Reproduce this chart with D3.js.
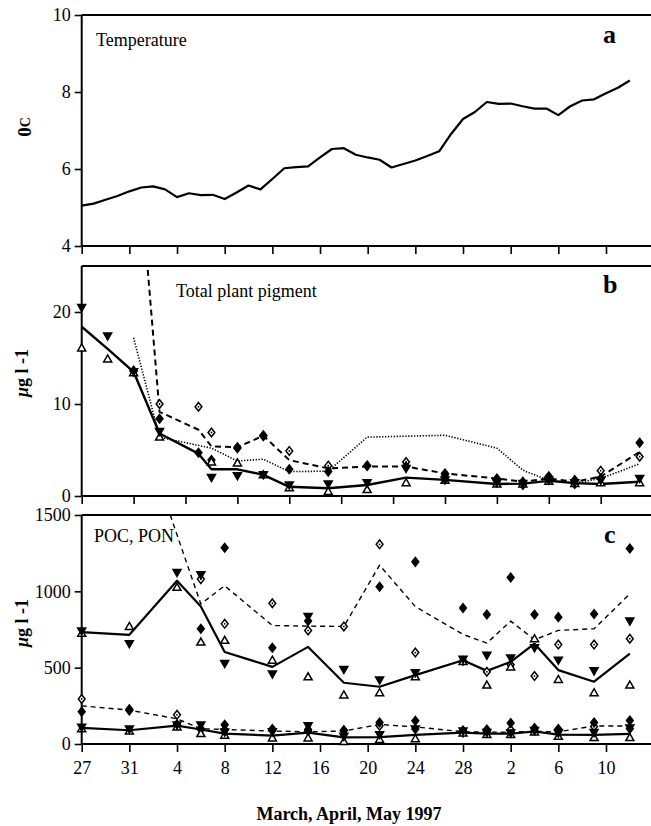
<!DOCTYPE html>
<html>
<head>
<meta charset="utf-8">
<script src="https://cdn.jsdelivr.net/npm/d3@7"></script>
<style>
  body { margin: 0; background: #fff; }
  text { font-family: "Liberation Serif", "Times New Roman", serif; fill: #000; }
</style>
</head>
<body>
<script>
// ---------- data ----------
// day 0 = 27 March
var tempDays = [0,1,2,3,4,5,6,7,8,9,10,11,12,13,14,15,16,17,18,19,20,21,22,23,
                24,25,26,27,28,29,30,31,32,33,34,35,36,37,38,39,40,41,42,43,44,45,46];
var tempVals = [5.05,5.10,5.20,5.30,5.42,5.52,5.55,5.47,5.27,5.37,5.32,5.33,5.22,5.39,5.57,5.47,
                5.74,6.02,6.05,6.07,6.30,6.52,6.54,6.37,6.30,6.24,6.04,6.13,6.22,6.34,6.46,6.91,
                7.30,7.48,7.74,7.69,7.70,7.63,7.57,7.57,7.40,7.63,7.78,7.81,7.97,8.11,8.30];

// panel b (its own x spacing)
var bDays    = [0, 2, 4, 6, 9, 10, 12, 14, 16, 19, 22, 25, 28, 32, 34, 36, 38, 40, 43];
var bDownTri = [20.5, 17.4, 13.5, 7.0, null, 2.0, 2.2, 2.3, 1.2, 1.3, 1.45, 3.0, 1.75, 1.45, 1.35, 1.7, 1.45, 1.7, 1.9];
var bUpTri   = [16.1, 14.9, 13.4, 6.4, null, 3.7, 3.6, 2.3, 0.9, 0.5, 0.7, 1.45, 1.7, 1.3, 1.3, 1.6, 1.35, 1.45, 1.45];
var bFillDia = [null, null, 13.6, 8.4, 4.7, 3.9, 5.2, 6.5, 2.9, 2.65, 3.3, 3.2, 2.45, 1.9, 1.55, 2.15, 1.75, 1.9, 5.8];
var bOpenDia = [null, null, 13.6, 10.0, 9.7, 6.9, 5.3, 6.6, 4.9, 3.3, 3.3, 3.7, 2.3, 1.7, 1.2, 1.9, 1.3, 2.75, 4.27];
var bSolid   = [18.4, 16.0, 13.5, 6.8, 4.6, 2.9, 2.9, 2.3, 1.0, 0.85, 1.2, 2.0, 1.75, 1.3, 1.35, 1.65, 1.4, 1.3, 1.55];
var bDashed  = [null, null, 43, 9.15, 7.2, 5.4, 5.3, 6.55, 3.9, 3.0, 3.2, 3.2, 2.45, 1.9, 1.55, 1.9, 1.55, 2.1, 4.8];
var bDotted  = [null, null, 17.2, 6.4, null, 5.2, 3.8, 4.0, 2.65, 2.7, 6.4, 6.5, 6.6, 5.2, 2.8, 1.7, 1.4, 1.9, 3.5];

// panel c
var cDays      = [0, 4, 8, 10, 12, 16, 19, 22, 25, 28, 32, 34, 36, 38, 40, 43, 46];
var pocDownTri = [740, 657, 1124, 1108, 527, 458, 835, 488, 419, 466, 555, 581, 564, 630, 549, 479, 805];
var pocUpTri   = [726, 770, 1026, 668, 679, 549, 440, 321, 336, 440, 540, 386, 505, 690, 423, 336, 386];
var pocFillDia = [null, null, null, 755, 1286, 631, 805, null, 1030, 1193, 891, 848, 1091, 848, 831, 852, 1280];
var pocOpenDia = [null, null, null, 1080, 787, 922, 744, 770, 1308, 599, 545, 473, 519, 445, 651, 651, 690];
var pocSolid   = [733, 715, 1069, 900, 603, 505, 636, 401, 375, 451, 549, 479, 538, 657, 484, 408, 592];
var pocDashed  = [null, 2280, 1370, 917, 1037, 776, 772, 770, 1171, 900, 718, 661, 805, 683, 744, 755, 983];

var ponDownTri = [110, 98, 125, 125, 78, 80, 119, 50, 61, 98, 85, 75, 72, 88, 72, 75, 105];
var ponUpTri   = [100, 85, 112, 68, 58, 40, 40, 17, 30, 35, 72, 62, 62, 78, 50, 42, 42];
var ponFillDia = [212, 228, 130, 100, 126, 90, 95, 90, 141, 152, 88, 95, 137, 104, 98, 141, 154];
var ponOpenDia = [295, 219, 191, 95, 93, 98, 85, 89, 119, 98, 76, 80, 93, 87, 90, 115, 100];
var ponSolid   = [105, 90, 120, 95, 68, 55, 75, 43, 45, 60, 75, 68, 68, 82, 62, 60, 66];
var ponDashed  = [250, 222, 165, 100, 95, 85, 80, 85, 128, 112, 80, 78, 78, 82, 80, 118, 118];

var xTickDays   = [0, 4, 8, 12, 16, 20, 24, 28, 32, 36, 40, 44];
var xTickLabels = ["27", "31", "4", "8", "12", "16", "20", "24", "28", "2", "6", "10"];
var bTickDays   = [0, 4, 8, 12, 16, 20, 24, 28, 32, 36, 40];

// ---------- layout ----------
var svgWidth = 651, svgHeight = 826;
var left = 81.7, right = 651;

var svg = d3.select("body").append("svg")
    .attr("width", svgWidth)
    .attr("height", svgHeight);

var xScale = d3.scaleLinear().domain([0, 44]).range([left, 606]);
var xScaleB = d3.scaleLinear().domain([0, 40]).range([left, left + 519]);

var panels = {
  a: { top: 15,  bottom: 246, y: d3.scaleLinear().domain([4, 10]).range([246, 15]),   ticks: [4, 6, 8, 10] },
  b: { top: 266, bottom: 496, y: d3.scaleLinear().domain([0, 25]).range([496, 266]),  ticks: [0, 10, 20] },
  c: { top: 515, bottom: 744, y: d3.scaleLinear().domain([0, 1500]).range([744, 515]), ticks: [0, 500, 1000, 1500] }
};

// clip rects
var defs = svg.append("defs");
Object.keys(panels).forEach(function(k) {
  var p = panels[k];
  defs.append("clipPath").attr("id", "clip-" + k)
    .append("rect")
    .attr("x", left).attr("y", p.top)
    .attr("width", right - left).attr("height", p.bottom - p.top);
});

function frame(p, xs, tickDays, labels) {
  // top border
  svg.append("line")
    .attr("x1", left).attr("x2", right)
    .attr("y1", p.top).attr("y2", p.top)
    .attr("stroke", "black").attr("stroke-width", 2);
  // bottom axis
  var xa = d3.axisBottom(xs).tickValues(tickDays).tickSize(8).tickSizeOuter(0).tickPadding(9);
  if (labels) xa.tickFormat(function(d, i) { return labels[i]; });
  else xa.tickFormat("");
  var gx = svg.append("g").attr("transform", "translate(0," + p.bottom + ")").call(xa);
  gx.select(".domain").remove();
  gx.selectAll(".tick line").attr("stroke-width", 1.6);
  gx.selectAll("text").attr("font-size", 18).style("font-family", "Liberation Serif, serif");
  svg.append("line")
    .attr("x1", left).attr("x2", right)
    .attr("y1", p.bottom).attr("y2", p.bottom)
    .attr("stroke", "black").attr("stroke-width", 2);
  // left axis
  var ya = d3.axisLeft(p.y).tickValues(p.ticks).tickSize(7).tickSizeOuter(0).tickPadding(4)
    .tickFormat(d3.format("d"));
  var gy = svg.append("g").attr("transform", "translate(" + left + ",0)").call(ya);
  gy.select(".domain").remove();
  gy.selectAll(".tick line").attr("stroke-width", 1.6);
  gy.selectAll("text").attr("font-size", 18).style("font-family", "Liberation Serif, serif");
  svg.append("line")
    .attr("x1", left).attr("x2", left)
    .attr("y1", p.top).attr("y2", p.bottom)
    .attr("stroke", "black").attr("stroke-width", 2);
}

frame(panels.a, xScale, xTickDays, null);
frame(panels.b, xScaleB, bTickDays, null);
frame(panels.c, xScale, xTickDays, xTickLabels);

// ---------- series helpers ----------
function pairs(days, vals) {
  var out = [];
  days.forEach(function(d, i) { if (vals[i] != null) out.push([d, vals[i]]); });
  return out;
}

function drawLine(key, xs, days, vals, width, dash) {
  var p = panels[key];
  var line = d3.line().x(function(d) { return xs(d[0]); }).y(function(d) { return p.y(d[1]); });
  svg.append("path")
    .datum(pairs(days, vals))
    .attr("clip-path", "url(#clip-" + key + ")")
    .attr("fill", "none")
    .attr("stroke", "black")
    .attr("stroke-width", width)
    .attr("stroke-linejoin", "round")
    .attr("stroke-dasharray", dash || null)
    .attr("d", line);
}

var shapes = {
  down: { d: "M0,4L4,-3L-4,-3Z", fill: "black" },
  up:   { d: "M0,-4L4,3L-4,3Z", fill: "white" },
  dfill:{ d: "M0,-4.3L3.4,0L0,4.3L-3.4,0Z", fill: "black" },
  dopen:{ d: "M0,-4.3L3.4,0L0,4.3L-3.4,0Z", fill: "white" }
};

function drawMarkers(key, xs, days, vals, type) {
  var p = panels[key];
  var dom = p.y.domain();
  var pts = pairs(days, vals).filter(function(d) { return d[1] >= dom[0] && d[1] <= dom[1]; });
  var s = shapes[type];
  var g = svg.append("g");
  g.selectAll("path").data(pts).enter().append("path")
    .attr("transform", function(d) { return "translate(" + xs(d[0]) + "," + p.y(d[1]) + ")"; })
    .attr("d", s.d)
    .attr("fill", s.fill)
    .attr("stroke", "black")
    .attr("stroke-width", 1.5);
  if (type === "dopen") {
    g.selectAll("circle").data(pts).enter().append("circle")
      .attr("cx", function(d) { return xs(d[0]); })
      .attr("cy", function(d) { return p.y(d[1]); })
      .attr("r", 0.9).attr("fill", "black");
  }
}

// ---------- panel a ----------
drawLine("a", xScale, tempDays, tempVals, 2.2);

// ---------- panel b ----------
drawLine("b", xScaleB, bDays, bDotted, 1.6, "1.3,1.6");
drawLine("b", xScaleB, bDays, bDashed, 2, "6,4");
drawLine("b", xScaleB, bDays, bSolid, 2.4);
drawMarkers("b", xScaleB, bDays, bOpenDia, "dopen");
drawMarkers("b", xScaleB, bDays, bFillDia, "dfill");
drawMarkers("b", xScaleB, bDays, bUpTri, "up");
drawMarkers("b", xScaleB, bDays, bDownTri, "down");

// ---------- panel c ----------
drawLine("c", xScale, cDays, pocDashed, 1.4, "5,4");
drawLine("c", xScale, cDays, pocSolid, 2.2);
drawLine("c", xScale, cDays, ponDashed, 1.4, "5,4");
drawLine("c", xScale, cDays, ponSolid, 2.2);
[[pocOpenDia, "dopen"], [pocFillDia, "dfill"], [pocUpTri, "up"], [pocDownTri, "down"],
 [ponOpenDia, "dopen"], [ponFillDia, "dfill"], [ponUpTri, "up"], [ponDownTri, "down"]]
  .forEach(function(s) { drawMarkers("c", xScale, cDays, s[0], s[1]); });

// ---------- texts ----------
svg.append("text").attr("x", 96).attr("y", 46).attr("font-size", 18).text("Temperature");
svg.append("text").attr("x", 176).attr("y", 297).attr("font-size", 18).text("Total plant pigment");
svg.append("text").attr("x", 94).attr("y", 542).attr("font-size", 18).text("POC, PON");

svg.append("text").attr("x", 603).attr("y", 43).attr("font-size", 26).attr("font-weight", "bold").text("a");
svg.append("text").attr("x", 603).attr("y", 293).attr("font-size", 26).attr("font-weight", "bold").text("b");
svg.append("text").attr("x", 604).attr("y", 543).attr("font-size", 26).attr("font-weight", "bold").text("c");

// y titles
var ta = svg.append("text")
  .attr("transform", "translate(31,127) rotate(-90)")
  .attr("text-anchor", "middle")
  .attr("font-weight", "bold");
ta.append("tspan").attr("font-size", 19).text("0");
ta.append("tspan").attr("font-size", 14).attr("dy", -1).text("C");

[[panels.b, 373], [panels.c, 623]].forEach(function(t) {
  var tt = svg.append("text")
    .attr("transform", "translate(28," + t[1] + ") rotate(-90)")
    .attr("text-anchor", "middle")
    .attr("font-size", 18)
    .attr("font-weight", "bold");
  tt.append("tspan").attr("font-style", "italic").text("\u03bc");
  tt.append("tspan").text("g l -1");
});

svg.append("text")
  .attr("x", 349).attr("y", 820)
  .attr("text-anchor", "middle")
  .attr("font-size", 18)
  .attr("font-weight", "bold")
  .text("March, April, May 1997");
</script>
</body>
</html>
